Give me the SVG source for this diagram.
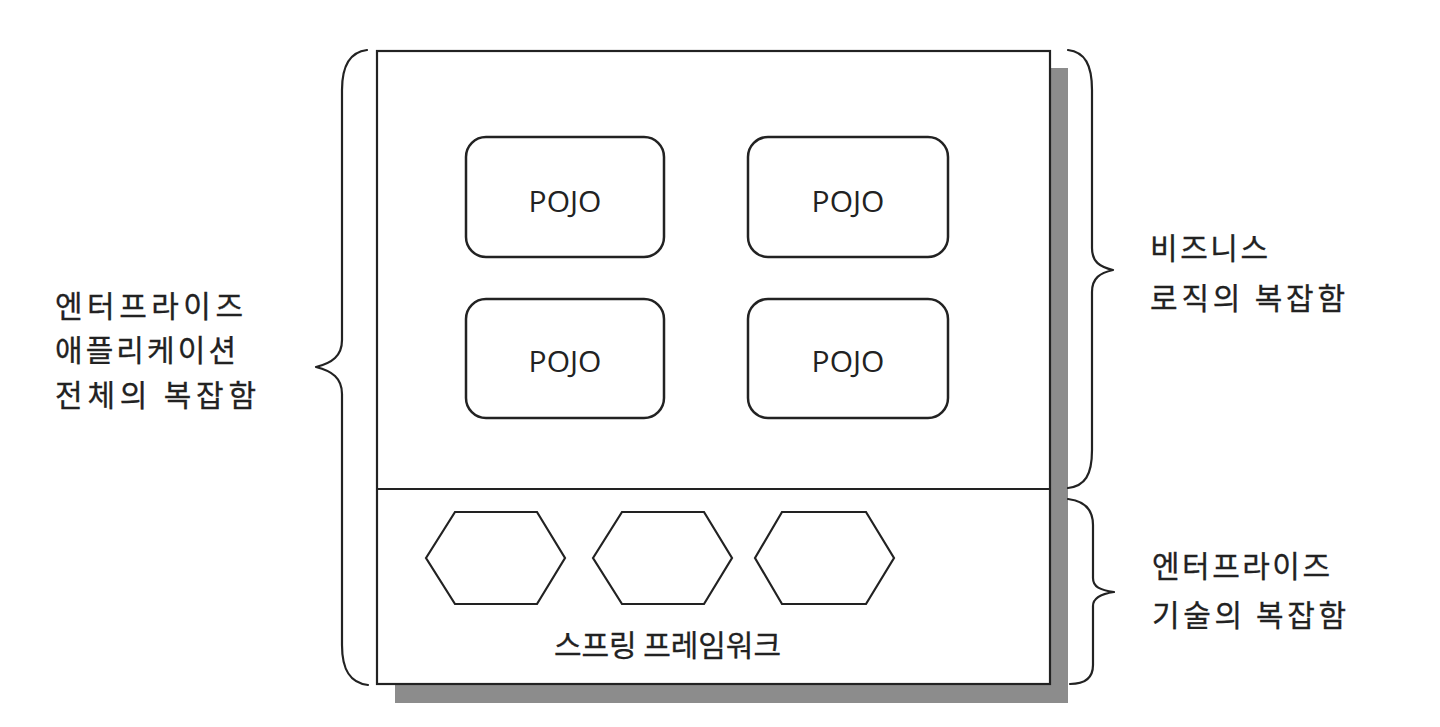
<svg xmlns="http://www.w3.org/2000/svg" width="1440" height="727" viewBox="0 0 1440 727">
<style>
.ln{fill:none;stroke:#222;stroke-width:2.2;stroke-linejoin:round;stroke-linecap:round}
.box{fill:#fff;stroke:#222;stroke-width:2.2}
.pojo{fill:#fff;stroke:#222;stroke-width:2.5}
.hex{fill:#fff;stroke:#222;stroke-width:2.2;stroke-linejoin:miter}
.kr{font-family:"Noto Sans CJK KR","Noto Sans",sans-serif;font-size:30px;fill:#222;stroke:#222;stroke-width:0.3}
.lat{font-family:"Open Sans","Liberation Sans",sans-serif;font-size:30px;fill:#222;text-anchor:middle}
</style>
<rect width="1440" height="727" fill="#fff"/>
<g id="container">
<rect x="395" y="68" width="673" height="635" fill="#8c8c8c"/>
<rect class="box" x="377" y="51" width="673" height="633"/>
<line class="ln" x1="377" y1="489" x2="1050" y2="489"/>
</g>
<g id="pojo1"><rect class="pojo" x="466" y="137" width="198" height="120" rx="20"/><text class="lat" x="565" y="212">POJO</text></g>
<g id="pojo2"><rect class="pojo" x="748" y="137" width="200" height="120" rx="20"/><text class="lat" x="848" y="212">POJO</text></g>
<g id="pojo3"><rect class="pojo" x="466" y="299" width="198" height="119" rx="20"/><text class="lat" x="565" y="372">POJO</text></g>
<g id="pojo4"><rect class="pojo" x="748" y="299" width="200" height="119" rx="20"/><text class="lat" x="848" y="372">POJO</text></g>
<g id="hex1"><polygon class="hex" points="426,558 455,512 537,512 565,558 537,604 455,604"/></g>
<g id="hex2"><polygon class="hex" points="593,558 622,512 704,512 732,558 704,604 622,604"/></g>
<g id="hex3"><polygon class="hex" points="755,558 782,512 866,512 894,558 866,604 782,604"/></g>
<g id="spring-label"><text class="kr" x="554" y="656" textLength="227" lengthAdjust="spacing">스프링 프레임워크</text></g>
<g id="braces">
<path class="ln" d="M367,50 C350,52 342,65 342,90 L342,340 C342,356 332,363 316,367 C332,371 342,378 342,394 L342,645 C342,670 350,683 368,685"/>
<path class="ln" d="M1068,50 C1085,52 1092,65 1092,90 L1092,248 C1092,262 1100,267 1113,270 C1100,273 1092,278 1092,292 L1092,450 C1092,475 1085,486 1068,488"/>
<path class="ln" d="M1068,499 C1085,501 1093,510 1093,525 L1093,578 C1093,587 1100,590 1114,592 C1100,594 1093,598 1093,606 L1093,665 C1093,678 1085,684 1070,684"/>
</g>
<g id="label-left">
<text class="kr" x="55" y="317" textLength="188" lengthAdjust="spacing">엔터프라이즈</text>
<text class="kr" x="55" y="361" textLength="181" lengthAdjust="spacing">애플리케이션</text>
<text class="kr" x="55" y="406" textLength="201" lengthAdjust="spacing">전체의 복잡함</text>
</g>
<g id="label-business">
<text class="kr" x="1150" y="259" textLength="118" lengthAdjust="spacing">비즈니스</text>
<text class="kr" x="1150" y="309" textLength="195" lengthAdjust="spacing">로직의 복잡함</text>
</g>
<g id="label-tech">
<text class="kr" x="1152" y="577" textLength="178" lengthAdjust="spacing">엔터프라이즈</text>
<text class="kr" x="1152" y="626" textLength="194" lengthAdjust="spacing">기술의 복잡함</text>
</g>
</svg>
